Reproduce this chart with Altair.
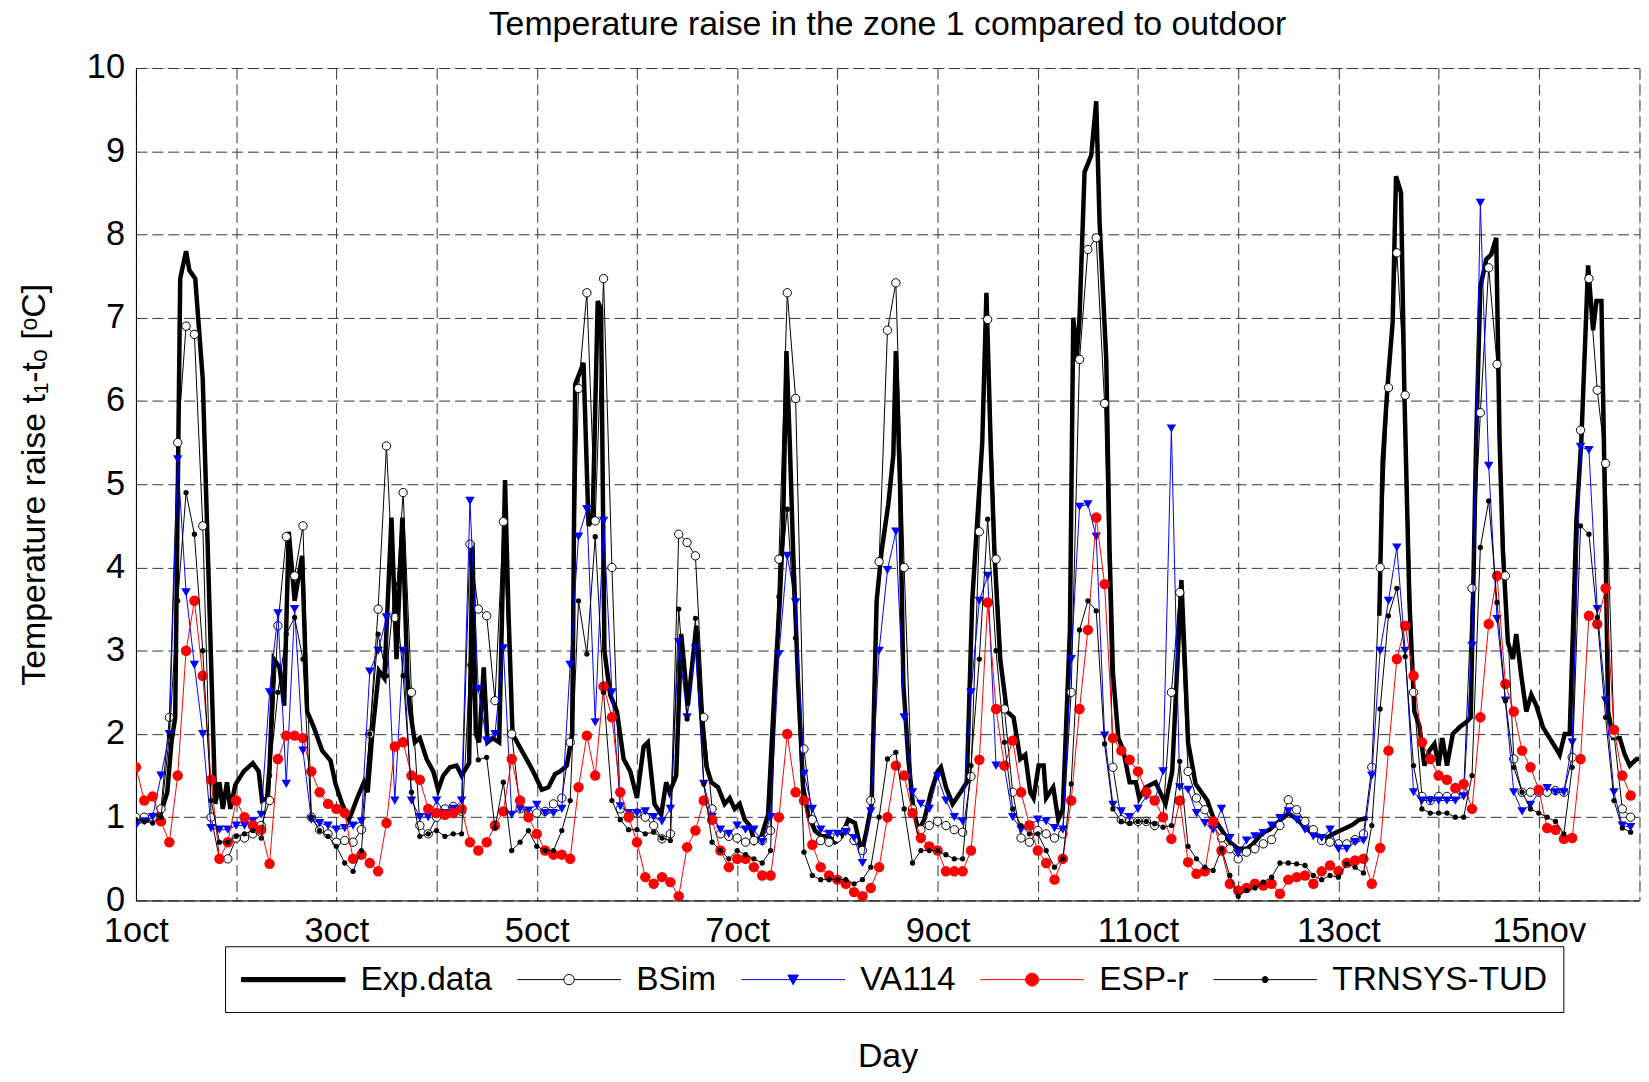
import json
import altair as alt
import pandas as pd

FONT = "Liberation Sans"

series_names = ["Exp.data", "BSim", "VA114", "ESP-r", "TRNSYS-TUD"]
x_tick_labels = ["1oct", "3oct", "5oct", "7oct", "9oct", "11oct", "13oct", "15nov"]
x_tick_days = list(range(0, 16))
y_ticks = list(range(0, 11))

# simulation outputs sampled every 2 hours (12 values per day, 15 days)
sample_hours = list(range(0, 360, 2))

bsim = [
    1.0, 1.0, 1.0, 1.1, 2.2, 5.5, 6.9, 6.8, 4.5, 1.0, 0.5, 0.5,
    0.75, 0.75, 0.8, 0.9, 1.2, 3.3, 4.37, 3.9, 4.5, 1.0, 0.85, 0.8,
    0.7, 0.72, 0.7, 0.85, 2.0, 3.5, 5.46, 3.4, 4.9, 2.5, 0.9, 0.8,
    1.0, 1.1, 1.13, 1.07, 4.28, 3.5, 3.42, 2.4, 4.55, 2.0, 1.1, 1.05,
    1.05, 1.07, 1.16, 1.23, 1.9, 6.15, 7.3, 4.56, 7.47, 4.0, 1.1, 1.0,
    1.05, 1.0, 0.9, 0.74, 0.8, 4.4, 4.3, 4.14, 2.2, 1.1, 0.8, 0.77,
    0.75, 0.7, 0.72, 0.72, 0.84, 4.1, 7.3, 6.03, 1.82, 0.97, 0.72, 0.7,
    0.75, 0.85, 0.72, 0.6, 1.2, 4.07, 6.85, 7.42, 4.0, 1.1, 0.85, 0.9,
    0.95, 0.9, 0.85, 0.82, 1.49, 4.43, 6.98, 4.1, 2.3, 1.3, 0.75, 0.7,
    0.84, 0.8, 0.75, 0.8, 2.5, 6.5, 7.82, 7.96, 5.97, 1.6, 0.97, 0.95,
    0.95, 0.95, 0.9, 1.0, 2.5, 3.7, 1.55, 1.23, 1.09, 0.9, 0.75, 0.62,
    0.5, 0.58, 0.62, 0.68, 0.73, 0.9, 1.21, 1.09, 0.95, 0.85, 0.72, 0.7,
    0.68, 0.68, 0.73, 0.8, 1.6, 4.0, 6.16, 7.78, 6.07, 2.5, 1.25, 1.2,
    1.25, 1.25, 1.25, 1.3, 3.75, 5.86, 7.6, 6.44, 3.9, 1.7, 1.3, 1.3,
    1.3, 1.3, 1.32, 1.3, 1.72, 5.65, 7.47, 6.13, 5.25, 2.0, 1.1, 1.0,
]

va114 = [
    0.9, 0.95, 1.0, 1.5, 2.0, 5.3, 3.7, 2.83, 2.0, 0.87, 0.85, 0.85,
    0.9, 0.9, 0.95, 1.03, 2.5, 3.45, 1.4, 3.5, 1.8, 0.97, 0.93, 0.9,
    0.85, 0.87, 0.9, 0.95, 2.75, 3.0, 3.4, 1.2, 3.0, 1.2, 1.0, 1.0,
    1.2, 1.05, 1.1, 1.2, 4.8, 2.54, 1.92, 2.0, 3.03, 1.03, 1.1, 1.08,
    1.15, 1.05, 1.05, 1.1, 2.83, 4.37, 4.7, 2.14, 4.56, 2.5, 1.13, 1.05,
    1.05, 1.07, 1.0, 0.95, 1.1, 3.1, 2.2, 3.03, 1.4, 1.0, 0.85, 0.8,
    0.9, 0.85, 0.85, 0.7, 1.0, 2.96, 4.14, 3.58, 1.52, 1.1, 0.85, 0.8,
    0.8, 0.82, 0.75, 0.45, 1.07, 3.0, 3.97, 4.43, 2.2, 1.3, 1.16, 1.1,
    1.49, 1.2, 1.0, 0.95, 2.5, 3.6, 3.9, 1.62, 1.6, 1.0, 0.85, 0.9,
    0.97, 0.95, 0.87, 0.85, 2.9, 4.73, 4.76, 4.37, 1.98, 1.15, 1.07, 1.0,
    1.1, 1.25, 1.2, 1.55, 5.67, 1.36, 1.33, 1.05, 0.93, 0.85, 1.1, 0.75,
    0.56, 0.72, 0.77, 0.81, 0.9, 0.99, 1.07, 0.97, 0.85, 0.77, 0.75, 0.85,
    0.62, 0.62, 0.7, 0.72, 1.5, 3.0, 3.6, 4.24, 3.0, 1.3, 1.2, 1.2,
    1.2, 1.2, 1.2, 1.25, 3.06, 8.38, 5.22, 3.38, 2.4, 1.3, 1.07, 1.15,
    1.3, 1.35, 1.3, 1.3, 1.9, 5.45, 5.41, 3.5, 2.4, 1.3, 0.9, 0.88,
]

espr = [
    1.6, 1.2, 1.25, 0.95, 0.7, 1.5, 3.0, 3.6, 2.7, 1.45, 0.5, 0.7,
    1.2, 1.0, 0.9, 0.85, 0.44, 1.7, 1.98, 1.98, 1.95, 1.55, 1.3, 1.16,
    1.1, 1.05, 0.5, 0.55, 0.45, 0.35, 0.93, 1.85, 1.9, 1.5, 1.45, 1.1,
    1.05, 1.03, 1.05, 1.1, 0.7, 0.6, 0.7, 0.9, 1.07, 1.7, 1.2, 1.0,
    0.8, 0.6, 0.55, 0.55, 0.5, 1.36, 1.98, 1.5, 2.57, 2.2, 1.3, 1.0,
    0.7, 0.28, 0.2, 0.28, 0.22, 0.05, 0.64, 0.84, 1.2, 0.97, 0.6, 0.4,
    0.5, 0.5, 0.4, 0.3, 0.3, 1.0, 2.0, 1.3, 1.2, 0.67, 0.4, 0.3,
    0.25, 0.2, 0.1, 0.05, 0.15, 0.4, 1.0, 1.62, 1.5, 1.05, 0.75, 0.65,
    0.6, 0.35, 0.35, 0.35, 0.6, 1.69, 3.58, 2.3, 1.62, 1.92, 1.3, 0.9,
    0.6, 0.45, 0.25, 0.5, 1.2, 2.3, 3.25, 4.6, 3.8, 1.95, 1.8, 1.69,
    1.55, 1.3, 1.2, 1.0, 0.74, 1.2, 0.46, 0.32, 0.35, 0.95, 0.6, 0.2,
    0.12, 0.15, 0.2, 0.18, 0.2, 0.08, 0.25, 0.28, 0.3, 0.2, 0.35, 0.42,
    0.35, 0.45, 0.48, 0.5, 0.2, 0.63, 1.8, 2.9, 3.3, 2.7, 1.9, 1.7,
    1.5, 1.45, 1.35, 1.4, 1.1, 2.2, 3.32, 3.9, 2.6, 2.27, 1.8, 1.6,
    1.33, 0.87, 0.85, 0.74, 0.75, 1.7, 3.42, 3.32, 3.75, 2.05, 1.5, 1.26,
]

trnsys = [
    0.97, 0.95, 0.93, 1.0, 1.98, 3.6, 4.9, 4.4, 3.0, 1.2, 0.7, 0.7,
    0.77, 0.8, 0.84, 0.75, 1.5, 2.5, 3.2, 3.4, 2.9, 1.0, 0.84, 0.77,
    0.65, 0.45, 0.35, 0.6, 2.0, 3.2, 2.7, 3.8, 2.7, 1.3, 0.77, 0.8,
    0.84, 0.77, 0.8, 0.8, 2.83, 1.69, 1.72, 0.87, 1.42, 0.6, 0.7, 0.84,
    0.65, 0.6, 0.6, 0.84, 1.2, 3.6, 2.96, 4.37, 2.5, 1.2, 0.97, 0.85,
    0.85, 0.8, 0.82, 0.75, 0.72, 3.5, 2.18, 3.39, 1.4, 0.7, 0.6, 0.5,
    0.6, 0.55, 0.5, 0.45, 0.6, 3.65, 4.7, 3.15, 0.58, 0.3, 0.25, 0.25,
    0.25, 0.25, 0.2, 0.25, 0.4, 1.0, 1.7, 1.78, 1.1, 0.45, 0.6, 0.6,
    0.6, 0.55, 0.5, 0.5, 1.62, 2.9, 4.58, 3.0, 1.9, 1.1, 0.9, 0.8,
    0.8, 0.6, 0.4, 0.5, 1.4, 3.25, 3.6, 3.48, 1.88, 1.1, 0.95, 0.93,
    0.95, 0.95, 0.92, 0.88, 0.9, 1.67, 0.65, 0.5, 0.4, 0.36, 0.62, 0.3,
    0.05, 0.12, 0.15, 0.22, 0.28, 0.45, 0.45, 0.44, 0.42, 0.3, 0.25, 0.3,
    0.28, 0.44, 0.4, 0.33, 0.9, 2.3, 3.42, 3.75, 2.93, 1.62, 1.1, 1.05,
    1.05, 1.05, 1.0, 1.0, 1.5, 4.24, 4.8, 3.58, 2.4, 1.6, 1.3, 1.1,
    1.05, 1.0, 0.95, 0.8, 1.6, 4.5, 4.4, 3.4, 2.2, 1.2, 0.87, 0.82,
]

# measured data: vertices of the thick line (hour, value); None marks a gap
exp_hours = [
    0, 2, 4, 6, 7.5, 8.5, 9.4, 10.6, 12, 12.8, 14.2, 16, 19, 20, 20.8, 21.8, 22.6, 23.8,
    25.8, 28, 29.4, 30.2, 31.4, 32, 33, 34.4, 35.5, 36.6, 38, 39.8, 41, 42.6, 44.6, 46.6, 47.8,
    49.4, 51, 51.8, 53, 54.6, 55.5, 56.6, 58.2, 59.5, 61.2, 62.4, 63.8, 65, 65.6, 66.8, 68, 69.6, 71.2,
    72.4, 73.6, 75.2, 76.8, 78, 79.8, 80.6, 81.4, 82.2, 83.3, 84.2, 85.5, 87, 88.4, 89.2, 90.2, 92.4, 94.4, 95.6,
    97.2, 98.8, 100.4, 101.6, 103.2, 104.5, 105.2, 107.2, 108.4, 109.4, 110.6, 111.4, 112.2, 113.6, 115.2, 116.8, 118.4,
    120, 121.6, 122.6, 124.2, 125.8, 127, 127.8, 129.4, 130.6, 132.2, 134.2, 135.4, 136.6, 137.8, 139.4, 141, 142.2, 143.4,
    144.6, 145.8, 147, 148.2, 149.8, 151.4, 153, 154.2, 155, 155.8, 156.6, 157.4, 158.6, 159.8, 161, 162.6, 164.2, 165.8, 167.4,
    169, 170.6, 172.2, 173.8, 175, 176.2, 177.4, 178.6, 180.2, 181.4, 182, 183, 183.8, 185, 186.2, 187.4, 188.8, 190.4,
    192, 192.8, 194, 195.6, 197.5, 199, 200.3, 201.5, 202.7, 203.7, 204.7, 205.6, 207, 208.6, 210.2, 211.8, 213, 214.2, 215,
    216.2, 217.4, 218, 219.7, 220.9, 222, 223.7, 224.5, 225.3, 226, 227.2, 228.8, 230, 230.8, 232.4, 233.2, 234, 235.3, 236.4, 238, 239.5,
    240.3, 241.9, 244.2, 246.6, 248.2, 250.4, 251.2, 252, 253.8, 255.2, 256.6, 258, 260, 262,
    264, 266, 267.4, 269.8, 271.5, 273.8, 276, 278, 280, 282, 285, 287.5, 289.8, 291.4, 293, 295, 296.5,
    297.8, 298.6, 299.8, 301, 301.8, 303, 303.8, 305, 306.2, 307.4, 308.6, 309.8, 311,
    312, 312.9, 314, 315.4, 317, 318.6, 319.7, 321, 322, 323.4, 324.6, 325.8, 326.6, 327.4, 328.6, 329.8, 330.6, 331.8, 333, 334.2, 335.4,
    337, 338.6, 340.2, 341, 342.2, 343.4, 345, 346.2, 347.8, 349, 349.8, 351, 351.8, 352.6, 353.8, 355.4, 356.6, 357.8, 359.4, 360,
]
exp_vals = [
    1.0, 0.95, 1.0, 1.05, 1.3, 1.9, 2.2, 7.47, 7.8, 7.57, 7.47, 6.26, 1.16, 1.42, 1.1, 1.42, 1.1, 1.39,
    1.55, 1.65, 1.55, 1.2, 1.23, 1.6, 2.9, 2.8, 2.34, 4.43, 3.6, 4.14, 2.27, 2.08, 1.8, 1.68, 1.4,
    1.16, 0.97, 1.07, 1.23, 1.42, 1.3, 2.0, 2.76, 2.67, 4.6, 2.9, 4.6, 2.7, 2.3, 1.9, 1.95, 1.7, 1.55,
    1.33, 1.5, 1.6, 1.62, 1.5, 1.65, 4.3, 2.0, 1.9, 2.8, 1.9, 1.95, 1.9, 5.05, 3.5, 2.0, 1.8, 1.62, 1.5,
    1.33, 1.36, 1.52, 1.55, 1.62, 2.0, 6.2, 6.46, 4.5, 4.6, 7.2, 7.1, 3.0, 2.47, 2.27, 1.7, 1.55,
    1.23, 1.85, 1.9, 1.16, 1.03, 1.42, 1.3, 1.5, 3.2, 2.34, 3.3, 2.27, 1.62, 1.42, 1.36, 1.16, 1.23, 1.1,
    1.16, 0.97, 0.9, 0.7, 0.77, 1.03, 2.6, 3.6, 4.5, 6.6, 5.5, 4.2, 2.6, 1.36, 1.03, 0.84, 0.77, 0.77, 0.7,
    0.77, 0.97, 0.93, 0.58, 0.84, 1.16, 3.6, 4.2, 4.76, 5.35, 6.6, 5.0, 2.6, 1.7, 1.1, 0.84, 0.97, 1.3,
    1.55, 1.6, 1.36, 1.16, 1.3, 1.42, 3.6, 4.56, 5.5, 7.3, 5.5, 4.2, 2.9, 2.27, 2.2, 1.7, 1.75, 1.3, 1.23,
    1.62, 1.62, 1.23, 1.36, 0.97, 1.1, 3.25, 7.0, 6.5, 7.0, 8.75, 8.95, 9.6, 8.15, 6.5, 4.2, 2.73, 1.95, 1.82, 1.42, 1.42,
    1.23, 1.36, 1.42, 1.16, 1.55, 3.85, 2.9, 1.9, 1.4, 1.3, 1.2, 1.0, 0.85, 0.7,
    0.62, 0.62, 0.67, 0.81, 0.85, 0.95, 1.05, 0.98, 0.88, 0.8, 0.75, 0.82, 0.87, 0.91, 0.97, 0.99, None,
    3.42, 5.28, 6.2, 6.95, 8.7, 8.5, 6.1, 3.6, 2.27, 2.1, 1.62, 1.8, 1.88,
    1.62, 1.95, 1.62, 2.0, 2.08, 2.14, 2.2, 5.54, 7.37, 7.7, 7.76, 7.96, 5.54, 4.2, 3.1, 2.9, 3.2, 2.7, 2.27, 2.47, 2.34,
    2.08, 1.95, 1.82, 1.75, 2.0, 2.0, 4.56, 5.54, 7.63, 6.85, 7.2, 7.2, 4.9, 2.27, 1.95, 1.95, 1.75, 1.62, 1.7, 1.7,
]

assert len(exp_hours) == len(exp_vals)
for arr in (bsim, va114, espr, trnsys):
    assert len(arr) == len(sample_hours)

# ---- data frames ----
rows = []
seg = 0
for h, v in zip(exp_hours, exp_vals):
    if v is None:
        seg += 1
        continue
    rows.append({"day": h / 24.0, "value": v, "seg": seg})
exp_df = pd.DataFrame(rows)


def sim_frame(vals):
    return pd.DataFrame({"day": [h / 24.0 for h in sample_hours], "value": vals})


bsim_df = sim_frame(bsim)
va_df = sim_frame(va114)
esp_df = sim_frame(espr)
tr_df = sim_frame(trnsys)

legend_df = pd.DataFrame({
    "series": series_names,
    "day": [exp_df["day"].iloc[0], bsim_df["day"].iloc[0], va_df["day"].iloc[0],
            esp_df["day"].iloc[0], tr_df["day"].iloc[0]],
    "value": [exp_df["value"].iloc[0], bsim[0], va114[0], espr[0], trnsys[0]],
})

# ---- axes ----
label_expr = ("datum.value % 2 === 0 ? " + json.dumps(x_tick_labels).replace('"', "'")
              + "[datum.value / 2] : ''")

common_axis = dict(
    grid=True, gridDash=[11, 5], gridColor="#333333", gridWidth=1, gridOpacity=1,
    ticks=False, tickSize=0, labelFont=FONT, labelFontSize=34.5, labelColor="black",
    titleFont=FONT, titleFontSize=34, titleFontWeight="normal", titleColor="black",
    domainColor="black", domainWidth=1, labelFlush=False, labelOverlap=False,
)

x_enc = alt.X(
    "day:Q",
    scale=alt.Scale(domain=[0, 15], nice=False, zero=False),
    axis=alt.Axis(values=x_tick_days, labelExpr=label_expr, title="Day",
                  labelPadding=14, titlePadding=92, **common_axis),
)
y_enc = alt.Y(
    "value:Q",
    scale=alt.Scale(domain=[0, 10], nice=False, zero=False),
    axis=alt.Axis(values=y_ticks, title="Temperature raise t\u2081-t\u2092 [\u1d52C]",
                  labelPadding=11.5, titlePadding=35, **common_axis),
)

exp_line = alt.Chart(exp_df).mark_line(color="black", strokeWidth=4.5, clip=True).encode(
    x=x_enc, y=y_enc, detail="seg:N")


def line(df, color):
    return alt.Chart(df).mark_line(color=color, strokeWidth=1, clip=True).encode(x=x_enc, y=y_enc)


bsim_pts = alt.Chart(bsim_df).mark_point(shape="circle", filled=True, fill="white", stroke="black",
                                         strokeWidth=1, size=70, opacity=1, clip=True).encode(x=x_enc, y=y_enc)
va_pts = alt.Chart(va_df).mark_point(shape="triangle-down", filled=True, color="blue",
                                     size=90, opacity=1, clip=True).encode(x=x_enc, y=y_enc)
esp_pts = alt.Chart(esp_df).mark_point(shape="circle", filled=True, color="red",
                                       size=110, opacity=1, clip=True).encode(x=x_enc, y=y_enc)
tr_pts = alt.Chart(tr_df).mark_point(shape="circle", filled=True, color="black",
                                     size=28, opacity=1, clip=True).encode(x=x_enc, y=y_enc)

# ---- legend (symbols: line with marker); unit = 17 px, symbol spans 104 px ----
legend_paths = [
    "M-1,-0.124H5.118V0.124H-1Z",
    "M-1,0H1.753M2.365,0H5.118M1.753,0A0.306,0.306,0,1,0,2.365,0A0.306,0.306,0,1,0,1.753,0Z",
    "M-1,0H5.118M1.753,-0.27H2.365L2.059,0.3Z",
    "M-1,0H5.118M1.677,0A0.382,0.382,0,1,0,2.441,0A0.382,0.382,0,1,0,1.677,0Z",
    "M-1,0H5.118M1.879,0A0.18,0.18,0,1,0,2.239,0A0.18,0.18,0,1,0,1.879,0Z",
]
legend_fill = ["black", "white", "blue", "red", "black"]
legend_stroke = ["black", "black", "blue", "red", "black"]

leg = alt.Legend(
    orient="none", legendX=89.5, legendY=882, direction="horizontal", columns=5,
    symbolSize=289 * 4, symbolStrokeWidth=1, symbolOpacity=1,
    labelFont=FONT, labelFontSize=33.5, labelColor="black", labelOffset=85,
    columnPadding=22, padding=16, strokeColor="black", fillColor="white",
    cornerRadius=0, labelLimit=400,
)

legend_layer = alt.Chart(legend_df).mark_point(filled=True, opacity=0).encode(
    x=x_enc, y=y_enc,
    fill=alt.Fill("series:N", title=None, scale=alt.Scale(domain=series_names, range=legend_fill), legend=leg),
    stroke=alt.Stroke("series:N", title=None, scale=alt.Scale(domain=series_names, range=legend_stroke), legend=leg),
    shape=alt.Shape("series:N", title=None, scale=alt.Scale(domain=series_names, range=legend_paths), legend=leg),
)

chart = alt.layer(
    exp_line,
    line(bsim_df, "black"), bsim_pts,
    line(va_df, "blue"), va_pts,
    line(esp_df, "red"), esp_pts,
    line(tr_df, "black"), tr_pts,
    legend_layer,
).properties(
    width=1509.5,
    height=836,
    autosize=alt.AutoSizeParams(type="none"),
    padding={"left": 128.5, "top": 58, "right": 2, "bottom": 171},
    title=alt.Title("Temperature raise in the zone 1 compared to outdoor", font=FONT, fontSize=34,
                    fontWeight="normal", color="black", anchor="middle", frame="group",
                    baseline="alphabetic", offset=13, dy=32),
).configure_view(
    stroke="black", strokeWidth=1.5,
).configure(background="white")

chart.save("out.html", embed_options={"renderer": "svg", "actions": False})
